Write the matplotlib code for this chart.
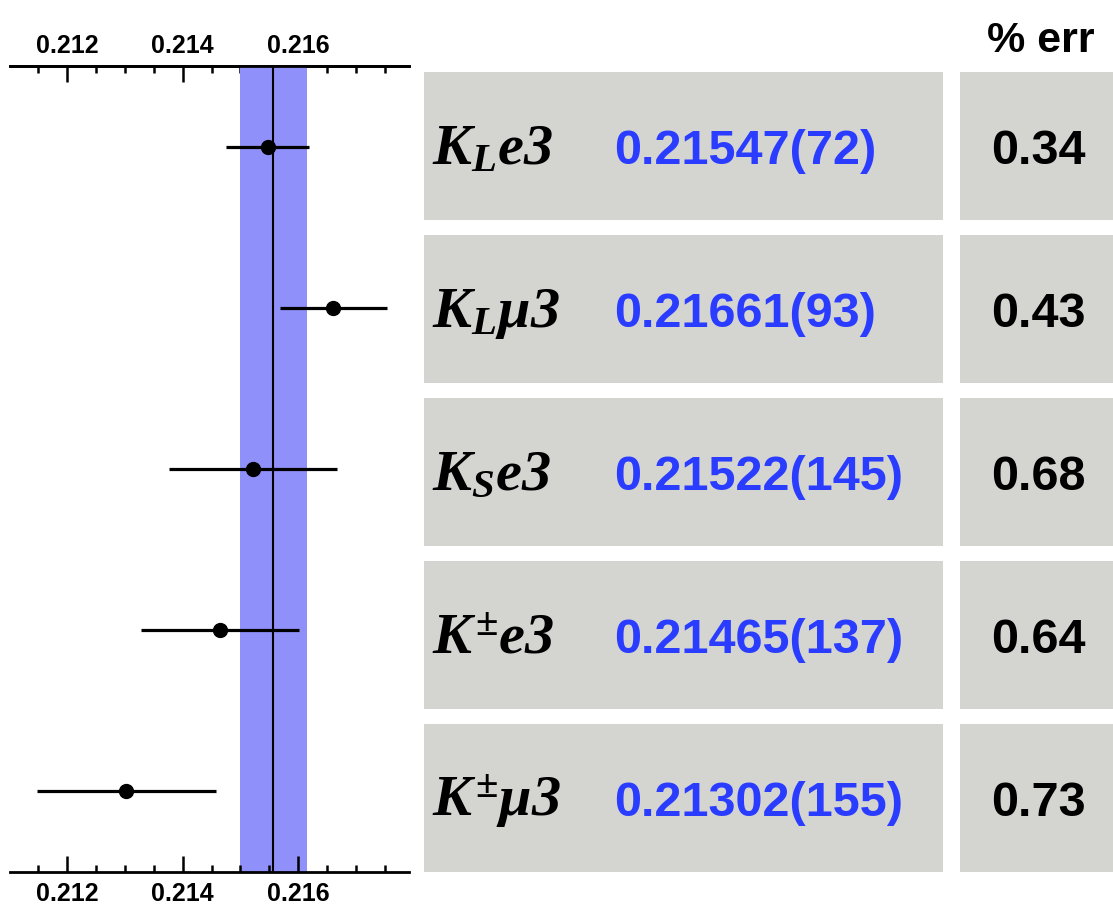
import matplotlib
matplotlib.use("Agg")
import matplotlib.pyplot as plt
from matplotlib.patches import Rectangle
from matplotlib.ticker import MultipleLocator, FixedLocator, FormatStrFormatter

# ---------------- data ----------------
mode_labels = [r"$K_L e3$", r"$K_L \mu 3$", r"$K_S e3$", r"$K^{\pm} e3$", r"$K^{\pm} \mu 3$"]
values = [0.21547, 0.21661, 0.21522, 0.21465, 0.21302]
errors = [0.00072, 0.00093, 0.00145, 0.00137, 0.00155]
value_texts = ["0.21547(72)", "0.21661(93)", "0.21522(145)", "0.21465(137)", "0.21302(155)"]
pct_err = ["0.34", "0.43", "0.68", "0.64", "0.73"]
pct_header = "% err"
avg_value = 0.21557
avg_error = 0.00058
major_ticks = [0.212, 0.214, 0.216]

plt.rcParams["mathtext.fontset"] = "custom"
plt.rcParams["mathtext.it"] = "Liberation Serif:italic:bold"
plt.rcParams["mathtext.rm"] = "Liberation Serif:italic:bold"
plt.rcParams["mathtext.bf"] = "Liberation Serif:italic:bold"

W, H = 1113, 909
fig = plt.figure(figsize=(W / 100, H / 100), dpi=100)

# ---------------- left plot ----------------
ax = fig.add_axes([10 / W, (H - 872) / H, (409 - 10) / W, (872 - 66) / H])
n = len(values)
ypos = [n - 1 - i for i in range(n)]
ax.axvspan(avg_value - avg_error, avg_value + avg_error, color="#9090fa", lw=0, zorder=1)
ax.axvline(avg_value, color="black", lw=1.5, zorder=2)
ax.errorbar(values, ypos, xerr=errors, fmt="o", color="black", ms=10,
            elinewidth=2.3, capsize=0, zorder=3)
ax.set_xlim(0.21101, 0.21792)
ax.set_ylim(-0.5, n - 0.5)
ax.set_yticks([])
for s in ["left", "right"]:
    ax.spines[s].set_visible(False)
for s in ["top", "bottom"]:
    ax.spines[s].set_linewidth(2)

sec = ax.secondary_xaxis("top")


def style_axis(a, pad):
    a.xaxis.set_major_locator(FixedLocator(major_ticks))
    a.xaxis.set_minor_locator(MultipleLocator(0.0005))
    a.xaxis.set_major_formatter(FormatStrFormatter("%.3f"))
    a.tick_params(axis="x", which="both", direction="in", width=1.8)
    a.tick_params(axis="x", which="major", length=11.5, pad=pad, labelsize=18)
    a.tick_params(axis="x", which="minor", length=5)
    for lab in a.get_xticklabels():
        lab.set_fontweight("bold")
        lab.set_family("Liberation Sans")


style_axis(ax, 7)
style_axis(sec, 6)
sec.spines["top"].set_linewidth(2)

# ---------------- table ----------------
tab = fig.add_axes([0, 0, 1, 1], zorder=-1)
tab.set_xlim(0, W)
tab.set_ylim(H, 0)
tab.axis("off")
box_col = "#d4d4d0"
for i in range(n):
    top = 72 + i * 163
    tab.add_patch(Rectangle((424, top), 943 - 424, 148, color=box_col, lw=0))
    tab.add_patch(Rectangle((960, top), W - 960, 148, color=box_col, lw=0))
    base = top + 92
    tab.text(432, base, mode_labels[i], fontsize=42, va="baseline", ha="left")
    tab.text(614, base, value_texts[i], fontsize=35, va="baseline", ha="left",
             color="#2a3cff", fontweight="bold", family="Liberation Sans")
    tab.text(1038, base, pct_err[i], fontsize=35, va="baseline", ha="center",
             color="black", fontweight="bold", family="Liberation Sans")
tab.text(1041, 52, pct_header, fontsize=31, va="baseline", ha="center",
         fontweight="bold", family="Liberation Sans")

fig.savefig("out.png", dpi=100)
